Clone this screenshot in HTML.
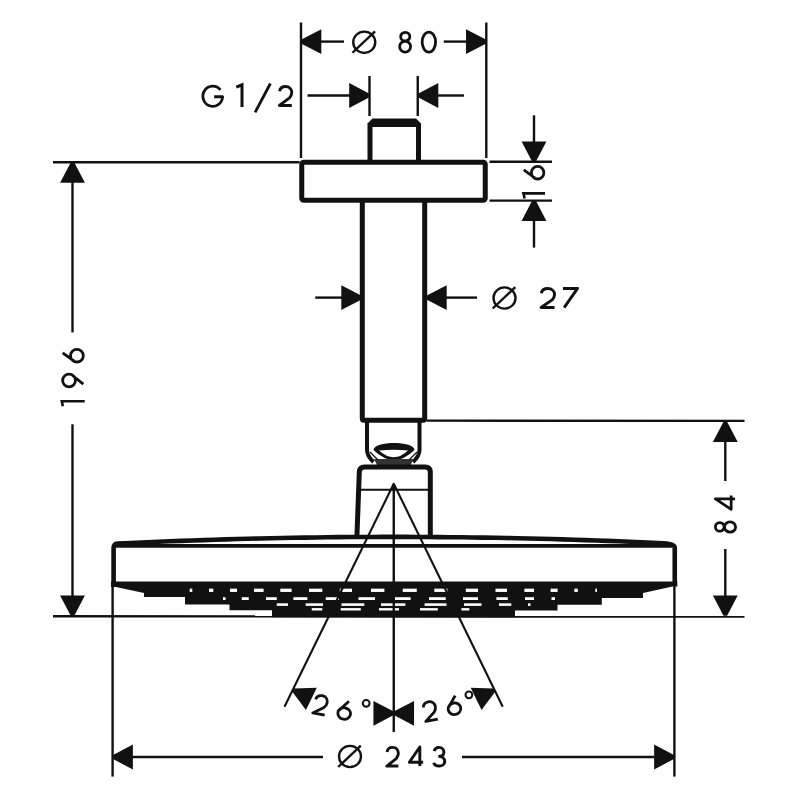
<!DOCTYPE html>
<html><head><meta charset="utf-8"><style>
html,body{margin:0;padding:0;background:#fff;}
svg{display:block;font-family:"Liberation Sans",sans-serif;}
</style></head><body>
<svg width="800" height="800" viewBox="0 0 800 800">
<rect width="800" height="800" fill="#fff"/>
<line x1="301" y1="22.5" x2="301" y2="158" stroke="#111" stroke-width="2.4" stroke-linecap="butt"/>
<line x1="486.3" y1="22.5" x2="486.3" y2="158" stroke="#111" stroke-width="2.4" stroke-linecap="butt"/>
<polygon points="301.00,39.80 321.30,29.20 321.30,54.00 301.00,43.40" fill="#111"/>
<line x1="320" y1="41.6" x2="344" y2="41.6" stroke="#111" stroke-width="2.4" stroke-linecap="butt"/>
<polygon points="486.30,43.40 466.00,54.00 466.00,29.20 486.30,39.80" fill="#111"/>
<line x1="443.75" y1="41.6" x2="467" y2="41.6" stroke="#111" stroke-width="2.4" stroke-linecap="butt"/>
<ellipse cx="364.25" cy="42.25" rx="11" ry="10.6" fill="none" stroke="#111" stroke-width="2.4"/>
<line x1="352.45" y1="52.75" x2="375.05" y2="31.45" stroke="#111" stroke-width="2.4" stroke-linecap="butt"/>
<path transform="matrix(10.9500,0.0000,0.0000,19.7000,399.650,32.400)" d="M0.51,0 A0.42,0.215 0 1,1 0.51,0.43 A0.42,0.215 0 1,1 0.51,0 Z M0.5,0.45 A0.5,0.275 0 1,1 0.5,1 A0.5,0.275 0 1,1 0.5,0.45 Z" fill="none" stroke="#111" stroke-width="2.8" vector-effect="non-scaling-stroke" stroke-linejoin="round"/>
<path transform="matrix(13.4500,0.0000,0.0000,20.0000,422.150,32.100)" d="M0.5,0 A0.5,0.5 0 1,1 0.5,1 A0.5,0.5 0 1,1 0.5,0 Z" fill="none" stroke="#111" stroke-width="2.8" vector-effect="non-scaling-stroke" stroke-linejoin="round"/>
<line x1="369.5" y1="76" x2="369.5" y2="116" stroke="#111" stroke-width="2.4" stroke-linecap="butt"/>
<line x1="417.75" y1="76" x2="417.75" y2="116" stroke="#111" stroke-width="2.4" stroke-linecap="butt"/>
<line x1="307.5" y1="95.5" x2="350" y2="95.5" stroke="#111" stroke-width="2.4" stroke-linecap="butt"/>
<polygon points="369.50,97.30 349.20,107.90 349.20,83.10 369.50,93.70" fill="#111"/>
<polygon points="418.00,93.70 438.30,83.10 438.30,107.90 418.00,97.30" fill="#111"/>
<line x1="437" y1="95.5" x2="464" y2="95.5" stroke="#111" stroke-width="2.4" stroke-linecap="butt"/>
<path transform="matrix(19.7000,0.0000,0.0000,20.1500,202.900,85.650)" d="M0.89,0.21 A0.5,0.5 0 1,0 1,0.55 L0.57,0.55" fill="none" stroke="#111" stroke-width="2.8" vector-effect="non-scaling-stroke" stroke-linejoin="round"/>
<path d="M236.3,87.2 L242,84.8 L242,106.9" fill="none" stroke="#111" stroke-width="3" stroke-linejoin="miter"/>
<line x1="270.4" y1="83.5" x2="255.1" y2="112.4" stroke="#111" stroke-width="2.8" stroke-linecap="butt"/>
<path transform="matrix(12.4000,0.0000,0.0000,19.0000,279.350,86.450)" d="M0.02,0.25 C0.06,0.08 0.25,0 0.5,0 C0.8,0 1,0.14 1,0.32 C1,0.44 0.93,0.52 0.82,0.6 L0,1 L1,1" fill="none" stroke="#111" stroke-width="2.9" vector-effect="non-scaling-stroke" stroke-linejoin="round"/>
<polygon points="367.50,123.50 372.50,118.50 416.00,118.50 421.00,123.50 421.00,162.00 367.50,162.00" fill="#111"/>
<polygon points="372.50,127.00 416.00,127.00 416.00,162.00 372.50,162.00" fill="#fff"/>
<rect x="301.75" y="162.3" width="183.5" height="38" rx="2" fill="#fff" stroke="#111" stroke-width="5.0"/>
<line x1="53" y1="162.3" x2="299.5" y2="162.3" stroke="#111" stroke-width="2.4" stroke-linecap="butt"/>
<line x1="489.5" y1="161.8" x2="552" y2="161.8" stroke="#111" stroke-width="2.4" stroke-linecap="butt"/>
<line x1="489.5" y1="200.6" x2="552" y2="200.6" stroke="#111" stroke-width="2.4" stroke-linecap="butt"/>
<line x1="534" y1="115.3" x2="534" y2="142" stroke="#111" stroke-width="2.4" stroke-linecap="butt"/>
<polygon points="532.20,161.80 521.60,141.50 546.40,141.50 535.80,161.80" fill="#111"/>
<polygon points="535.80,200.60 546.40,220.90 521.60,220.90 532.20,200.60" fill="#111"/>
<line x1="534" y1="220.5" x2="534" y2="247.6" stroke="#111" stroke-width="2.4" stroke-linecap="butt"/>
<path transform="matrix(0.0000,-12.6000,20.0500,0.0000,523.800,179.000)" d="M0.72,0 L0.08,0.55 M0.5,0.38 A0.5,0.31 0 1,1 0.5,1 A0.5,0.31 0 1,1 0.5,0.38 Z" fill="none" stroke="#111" stroke-width="2.8" vector-effect="non-scaling-stroke" stroke-linejoin="round"/>
<path d="M524.6,198.5 L523.4,193.4 L545,193.4" fill="none" stroke="#111" stroke-width="2.6"/>
<path d="M362.3,202 L362.3,418.5 Q362.3,420.2 364,420.2 L423,420.2 Q424.7,420.2 424.7,418.5 L424.7,202" fill="none" stroke="#111" stroke-width="5.0"/>
<line x1="315.25" y1="297.6" x2="342" y2="297.6" stroke="#111" stroke-width="2.4" stroke-linecap="butt"/>
<polygon points="361.60,299.40 341.30,310.00 341.30,285.20 361.60,295.80" fill="#111"/>
<polygon points="426.40,295.80 446.70,285.20 446.70,310.00 426.40,299.40" fill="#111"/>
<line x1="445" y1="297.6" x2="477" y2="297.6" stroke="#111" stroke-width="2.4" stroke-linecap="butt"/>
<ellipse cx="504.5" cy="298" rx="11" ry="10.6" fill="none" stroke="#111" stroke-width="2.4"/>
<line x1="492.7" y1="308.5" x2="515.3" y2="287.2" stroke="#111" stroke-width="2.4" stroke-linecap="butt"/>
<path transform="matrix(13.5000,0.0000,0.0000,19.1000,541.050,288.450)" d="M0.02,0.25 C0.06,0.08 0.25,0 0.5,0 C0.8,0 1,0.14 1,0.32 C1,0.44 0.93,0.52 0.82,0.6 L0,1 L1,1" fill="none" stroke="#111" stroke-width="2.9" vector-effect="non-scaling-stroke" stroke-linejoin="round"/>
<path transform="matrix(14.6000,0.0000,0.0000,19.1000,562.950,288.450)" d="M0,0 L1,0 L0.08,1" fill="none" stroke="#111" stroke-width="2.9" vector-effect="non-scaling-stroke" stroke-linejoin="round"/>
<line x1="426.5" y1="420.6" x2="744.5" y2="420.9" stroke="#111" stroke-width="2.4" stroke-linecap="butt"/>
<polygon points="727.10,421.80 737.70,442.10 712.90,442.10 723.50,421.80" fill="#111"/>
<line x1="725.3" y1="441" x2="725.3" y2="481" stroke="#111" stroke-width="2.4" stroke-linecap="butt"/>
<line x1="725.3" y1="549" x2="725.3" y2="597" stroke="#111" stroke-width="2.4" stroke-linecap="butt"/>
<polygon points="723.50,615.80 712.90,595.50 737.70,595.50 727.10,615.80" fill="#111"/>
<path transform="matrix(0.0000,-13.7500,19.7000,0.0000,715.400,509.350)" d="M0.76,1 L0.76,0 L0,0.8 L1,0.8" fill="none" stroke="#111" stroke-width="2.8" vector-effect="non-scaling-stroke" stroke-linejoin="round"/>
<path transform="matrix(0.0000,-10.2000,20.2000,0.0000,715.400,532.100)" d="M0.51,0 A0.42,0.215 0 1,1 0.51,0.43 A0.42,0.215 0 1,1 0.51,0 Z M0.5,0.45 A0.5,0.275 0 1,1 0.5,1 A0.5,0.275 0 1,1 0.5,0.45 Z" fill="none" stroke="#111" stroke-width="2.8" vector-effect="non-scaling-stroke" stroke-linejoin="round"/>
<polygon points="74.30,162.50 84.90,182.80 60.10,182.80 70.70,162.50" fill="#111"/>
<line x1="72.5" y1="181.5" x2="72.5" y2="332.4" stroke="#111" stroke-width="2.4" stroke-linecap="butt"/>
<line x1="72.5" y1="424.3" x2="72.5" y2="596.5" stroke="#111" stroke-width="2.4" stroke-linecap="butt"/>
<polygon points="70.70,615.80 60.10,595.50 84.90,595.50 74.30,615.80" fill="#111"/>
<path transform="matrix(0.0000,-12.6000,20.6500,0.0000,62.650,362.000)" d="M0.72,0 L0.08,0.55 M0.5,0.38 A0.5,0.31 0 1,1 0.5,1 A0.5,0.31 0 1,1 0.5,0.38 Z" fill="none" stroke="#111" stroke-width="2.8" vector-effect="non-scaling-stroke" stroke-linejoin="round"/>
<path transform="matrix(0.0000,-12.7000,20.6500,0.0000,62.650,386.900)" d="M0.22,1 L0.9,0.48 M0.5,0 A0.5,0.31 0 1,1 0.5,0.62 A0.5,0.31 0 1,1 0.5,0 Z" fill="none" stroke="#111" stroke-width="2.8" vector-effect="non-scaling-stroke" stroke-linejoin="round"/>
<path d="M62.8,406.2 L61.8,401.2 L84.7,401.2" fill="none" stroke="#111" stroke-width="2.6"/>
<path d="M367,421 L367,450 Q367,456 373.5,462" fill="none" stroke="#111" stroke-width="4"/>
<path d="M419.5,421 L419.5,450 Q419.5,456 413,462" fill="none" stroke="#111" stroke-width="4"/>
<path d="M373.5,450 C373.5,440.5 414.5,440.5 414.5,450 Q394,470 373.5,450 Z" fill="#111"/>
<path d="M379,450.5 Q394,449 408,450.5 Q394,464 379,450.5 Z" fill="#fff"/>
<polygon points="374.00,459.00 413.00,459.00 411.00,465.00 377.00,465.00" fill="#333"/>
<line x1="370" y1="452" x2="378" y2="460" stroke="#111" stroke-width="1.2" stroke-linecap="butt"/>
<line x1="417" y1="452" x2="409" y2="460" stroke="#111" stroke-width="1.2" stroke-linecap="butt"/>
<path d="M356.9,537 L359.3,472 Q359.6,466.9 364.5,466.9 L425,466.9 Q430.3,466.9 430.3,472 L430.3,537" fill="#fff" stroke="#111" stroke-width="5.0"/>
<line x1="357" y1="489.8" x2="430" y2="489.8" stroke="#111" stroke-width="2" stroke-linecap="butt"/>
<path d="M113.6,586 L113.6,547.77 Q113.6,543.77 117.60,543.47 L124.82,543.23 L136.05,542.72 L147.27,542.22 L158.49,541.75 L169.72,541.30 L180.94,540.87 L192.16,540.46 L203.38,540.08 L214.61,539.71 L225.83,539.37 L237.05,539.05 L248.28,538.76 L259.50,538.48 L270.72,538.23 L281.94,538.00 L293.17,537.79 L304.39,537.60 L315.61,537.44 L326.84,537.29 L338.06,537.17 L349.28,537.07 L360.51,537.00 L371.73,536.94 L382.95,536.91 L394.17,536.90 L405.40,536.91 L416.62,536.94 L427.84,537.00 L439.07,537.08 L450.29,537.18 L461.51,537.30 L472.74,537.44 L483.96,537.61 L495.18,537.79 L506.40,538.00 L517.63,538.24 L528.85,538.49 L540.07,538.76 L551.30,539.06 L562.52,539.38 L573.74,539.72 L584.97,540.09 L596.19,540.47 L607.41,540.88 L618.63,541.31 L629.86,541.76 L641.08,542.24 L652.30,542.73 L663.53,543.25 Q674.75,543.79 674.75,547.79 L674.75,586" fill="#fff" stroke="#111" stroke-width="4.6" stroke-linejoin="round"/>
<line x1="116" y1="545.9" x2="672" y2="545.9" stroke="#111" stroke-width="3.6" stroke-linecap="butt"/>
<polygon points="111.00,581.50 111.00,587.00 116.00,587.00 144.00,593.00 144.00,597.00 185.00,597.00 185.00,604.60 229.50,604.60 229.50,610.30 272.00,610.30 272.00,617.30 515.00,617.30 515.00,610.60 557.50,610.60 557.50,604.80 601.80,604.80 601.80,598.00 643.00,598.00 643.00,593.00 672.50,586.50 677.30,586.50 677.30,581.50" fill="#111"/>
<rect x="189.7" y="588.65" width="2.60" height="3.3" fill="#fff"/>
<rect x="209" y="588.65" width="4.30" height="3.3" fill="#fff"/>
<rect x="230" y="588.65" width="7.00" height="3.3" fill="#fff"/>
<rect x="254" y="588.65" width="9.60" height="3.3" fill="#fff"/>
<rect x="280.3" y="588.65" width="11.30" height="3.3" fill="#fff"/>
<rect x="309" y="588.65" width="13.30" height="3.3" fill="#fff"/>
<rect x="339.8" y="588.65" width="12.20" height="3.3" fill="#fff"/>
<rect x="371" y="588.65" width="13.40" height="3.3" fill="#fff"/>
<rect x="402.75" y="588.65" width="14.00" height="3.3" fill="#fff"/>
<rect x="434.3" y="588.65" width="13.10" height="3.3" fill="#fff"/>
<rect x="465.8" y="588.65" width="12.20" height="3.3" fill="#fff"/>
<rect x="495.5" y="588.65" width="11.50" height="3.3" fill="#fff"/>
<rect x="524.4" y="588.65" width="9.60" height="3.3" fill="#fff"/>
<rect x="550.6" y="588.65" width="7.00" height="3.3" fill="#fff"/>
<rect x="574.3" y="588.65" width="3.50" height="3.3" fill="#fff"/>
<rect x="595.3" y="588.65" width="1.70" height="3.3" fill="#fff"/>
<rect x="223" y="597.20" width="2.60" height="2.8" fill="#fff"/>
<rect x="241.75" y="597.20" width="7.00" height="2.8" fill="#fff"/>
<rect x="266" y="597.20" width="10.75" height="2.8" fill="#fff"/>
<rect x="293.4" y="597.20" width="14.00" height="2.8" fill="#fff"/>
<rect x="325.8" y="597.20" width="13.20" height="2.8" fill="#fff"/>
<rect x="358.5" y="597.20" width="16.50" height="2.8" fill="#fff"/>
<rect x="395" y="597.20" width="15.60" height="2.8" fill="#fff"/>
<rect x="429" y="597.20" width="16.70" height="2.8" fill="#fff"/>
<rect x="463" y="597.20" width="15.00" height="2.8" fill="#fff"/>
<rect x="496.4" y="597.20" width="11.35" height="2.8" fill="#fff"/>
<rect x="525" y="597.20" width="9.00" height="2.8" fill="#fff"/>
<rect x="551.5" y="597.20" width="3.50" height="2.8" fill="#fff"/>
<rect x="276.75" y="603.30" width="11.25" height="2.6" fill="#fff"/>
<rect x="305.7" y="603.30" width="17.30" height="2.6" fill="#fff"/>
<rect x="341.5" y="603.30" width="22.80" height="2.6" fill="#fff"/>
<rect x="381" y="603.30" width="24.40" height="2.6" fill="#fff"/>
<rect x="424.6" y="603.30" width="21.90" height="2.6" fill="#fff"/>
<rect x="464" y="603.30" width="17.50" height="2.6" fill="#fff"/>
<rect x="499" y="603.30" width="12.30" height="2.6" fill="#fff"/>
<rect x="528" y="603.30" width="2.50" height="2.6" fill="#fff"/>
<rect x="311.75" y="608.10" width="10.55" height="2.4" fill="#fff"/>
<rect x="340.7" y="608.10" width="20.10" height="2.4" fill="#fff"/>
<rect x="379" y="608.10" width="20.00" height="2.4" fill="#fff"/>
<rect x="420" y="608.10" width="17.80" height="2.4" fill="#fff"/>
<rect x="461.4" y="608.10" width="7.90" height="2.4" fill="#fff"/>
<line x1="53" y1="616.3" x2="744.5" y2="616.5" stroke="#111" stroke-width="2.4" stroke-linecap="butt"/>
<line x1="112.6" y1="585" x2="112.6" y2="776.6" stroke="#111" stroke-width="2.4" stroke-linecap="butt"/>
<line x1="674.4" y1="586" x2="674.4" y2="776.6" stroke="#111" stroke-width="2.4" stroke-linecap="butt"/>
<line x1="393.75" y1="483.75" x2="284.5" y2="706.75" stroke="#111" stroke-width="2.1" stroke-linecap="butt"/>
<line x1="393.75" y1="483.75" x2="502.75" y2="706.75" stroke="#111" stroke-width="2.1" stroke-linecap="butt"/>
<line x1="393.75" y1="483.75" x2="393.75" y2="732" stroke="#111" stroke-width="2.4" stroke-linecap="butt"/>
<polygon points="393.75,482.25 390.75,489.75 396.75,489.75" fill="#111"/>
<polygon points="293.93,688.41 316.83,687.78 305.95,710.07 292.35,691.64" fill="#111"/>
<polygon points="495.15,691.64 481.55,710.07 470.67,687.78 493.57,688.41" fill="#111"/>
<polygon points="393.75,715.10 373.45,725.70 373.45,700.90 393.75,711.50" fill="#111"/>
<polygon points="393.75,711.50 414.05,700.90 414.05,725.70 393.75,715.10" fill="#111"/>
<path transform="translate(320.50,704.90) rotate(11.00) translate(-6.100,-9.350) scale(12.2000,18.7000)" d="M0.02,0.25 C0.06,0.08 0.25,0 0.5,0 C0.8,0 1,0.14 1,0.32 C1,0.44 0.93,0.52 0.82,0.6 L0,1 L1,1" fill="none" stroke="#111" stroke-width="2.8" vector-effect="non-scaling-stroke" stroke-linejoin="round"/>
<path transform="translate(344.75,710.00) rotate(9.00) translate(-6.350,-9.350) scale(12.7000,18.7000)" d="M0.72,0 L0.08,0.55 M0.5,0.38 A0.5,0.31 0 1,1 0.5,1 A0.5,0.31 0 1,1 0.5,0.38 Z" fill="none" stroke="#111" stroke-width="2.8" vector-effect="non-scaling-stroke" stroke-linejoin="round"/>
<circle cx="366.2" cy="703.3" r="3.4" fill="none" stroke="#111" stroke-width="2"/>
<path transform="translate(430.00,711.00) rotate(-11.00) translate(-6.100,-9.350) scale(12.2000,18.7000)" d="M0.02,0.25 C0.06,0.08 0.25,0 0.5,0 C0.8,0 1,0.14 1,0.32 C1,0.44 0.93,0.52 0.82,0.6 L0,1 L1,1" fill="none" stroke="#111" stroke-width="2.8" vector-effect="non-scaling-stroke" stroke-linejoin="round"/>
<path transform="translate(453.90,705.25) rotate(-9.00) translate(-6.350,-9.350) scale(12.7000,18.7000)" d="M0.72,0 L0.08,0.55 M0.5,0.38 A0.5,0.31 0 1,1 0.5,1 A0.5,0.31 0 1,1 0.5,0.38 Z" fill="none" stroke="#111" stroke-width="2.8" vector-effect="non-scaling-stroke" stroke-linejoin="round"/>
<circle cx="468.9" cy="694.8" r="3.4" fill="none" stroke="#111" stroke-width="2"/>
<polygon points="112.60,755.20 132.90,744.60 132.90,769.40 112.60,758.80" fill="#111"/>
<line x1="132" y1="757" x2="323" y2="757" stroke="#111" stroke-width="2.4" stroke-linecap="butt"/>
<line x1="462" y1="757" x2="654.5" y2="757" stroke="#111" stroke-width="2.4" stroke-linecap="butt"/>
<polygon points="674.40,758.80 654.10,769.40 654.10,744.60 674.40,755.20" fill="#111"/>
<ellipse cx="350" cy="756.5" rx="11" ry="10.6" fill="none" stroke="#111" stroke-width="2.4"/>
<line x1="338.2" y1="767.0" x2="360.8" y2="745.7" stroke="#111" stroke-width="2.4" stroke-linecap="butt"/>
<path transform="matrix(11.5000,0.0000,0.0000,18.7000,386.850,747.350)" d="M0.02,0.25 C0.06,0.08 0.25,0 0.5,0 C0.8,0 1,0.14 1,0.32 C1,0.44 0.93,0.52 0.82,0.6 L0,1 L1,1" fill="none" stroke="#111" stroke-width="2.9" vector-effect="non-scaling-stroke" stroke-linejoin="round"/>
<path transform="matrix(13.8000,0.0000,0.0000,19.1000,409.350,746.950)" d="M0.76,1 L0.76,0 L0,0.8 L1,0.8" fill="none" stroke="#111" stroke-width="2.9" vector-effect="non-scaling-stroke" stroke-linejoin="round"/>
<path transform="matrix(11.0500,0.0000,0.0000,18.7000,433.700,747.350)" d="M0.04,0.2 C0.1,0.06 0.28,0 0.48,0 C0.74,0 0.92,0.11 0.92,0.26 C0.92,0.4 0.74,0.48 0.42,0.48 M0.42,0.48 C0.78,0.48 1,0.6 1,0.75 C1,0.9 0.8,1 0.5,1 C0.26,1 0.06,0.93 0,0.82" fill="none" stroke="#111" stroke-width="2.9" vector-effect="non-scaling-stroke" stroke-linejoin="round"/>
</svg></body></html>
